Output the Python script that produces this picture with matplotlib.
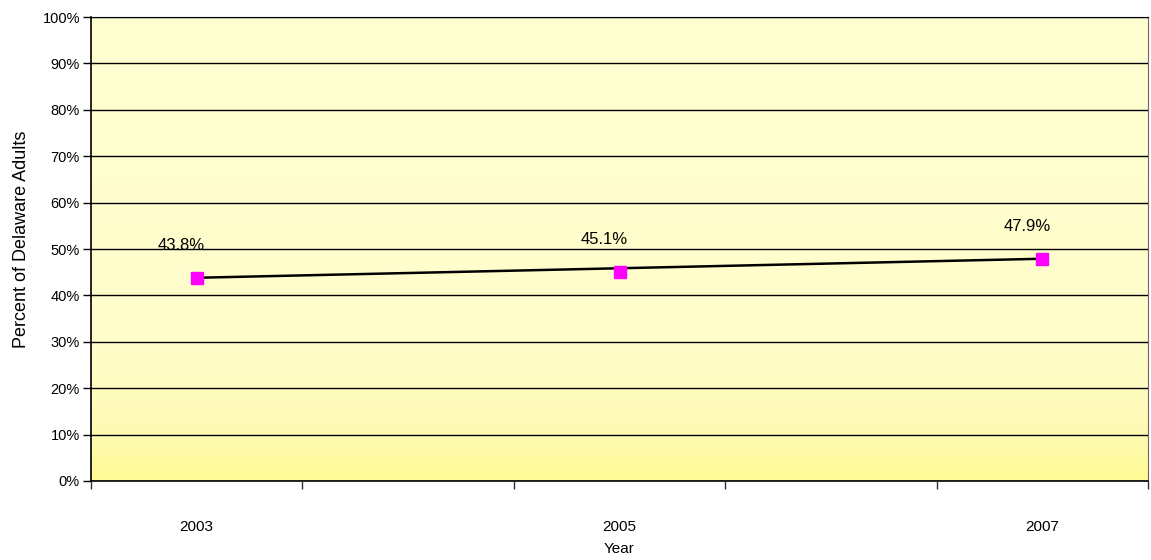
import numpy as np
import matplotlib
matplotlib.use("Agg")
import matplotlib.pyplot as plt
from matplotlib.colors import LinearSegmentedColormap

plt.rcParams['font.family'] = ['Liberation Sans', 'DejaVu Sans']

years = ['2003', '2004', '2005', '2006', '2007']
label_years = ['2003', '2005', '2007']
values = [43.8, 45.1, 47.9]          # percent of adults
value_labels = ['43.8%', '45.1%', '47.9%']

fig = plt.figure(figsize=(11.51, 5.6), dpi=100)
ax = fig.add_axes([0.0791, 0.1411, 0.9183, 0.8285])

# yellow gradient background, darker toward the bottom
cmap = LinearSegmentedColormap.from_list(
    'bg', [(0.0, '#FFFA94'), (0.12, '#FEFBB8'), (0.3, '#FFFDCA'), (1.0, '#FFFFD2')])
grad = np.linspace(0, 1, 256).reshape(-1, 1)
ax.imshow(grad, cmap=cmap, aspect='auto', origin='lower',
          extent=[-0.5, 4.5, 0, 100], zorder=0)

xpos = [years.index(y) for y in label_years]

# trend line between first and last year
ax.plot([xpos[0], xpos[-1]], [values[0], values[-1]], color='black', lw=1.8, zorder=3)
ax.plot(xpos, values, linestyle='none', marker='s', markersize=8.5,
        color='#FF00FF', markeredgecolor='#FF00FF', zorder=4)

for x, v, t in zip(xpos, values, value_labels):
    ax.annotate(t, (x, v), xytext=(-11, 23), textcoords='offset points',
                ha='center', va='center', fontsize=12)

ax.set_xlim(-0.5, 4.5)
ax.set_ylim(0, 100)
ax.set_yticks(np.arange(0, 101, 10))
ax.set_yticklabels([f'{v}%' for v in range(0, 101, 10)])
ax.yaxis.grid(True, color='black', lw=1)
ax.set_axisbelow(False)

ax.set_xticks(np.arange(-0.5, 4.6, 1))
ax.set_xticklabels([])
ax.set_xticks(xpos, minor=True)
ax.set_xticklabels(label_years, minor=True)
ax.tick_params(axis='x', which='minor', length=0, pad=28, labelsize=11)
ax.tick_params(axis='x', which='major', length=6, width=1, color='#333333')
ax.tick_params(axis='y', length=6, width=1, labelsize=10.5, pad=2)

for s in ['left', 'bottom']:
    ax.spines[s].set_color('black')
    ax.spines[s].set_linewidth(1.2)
ax.spines['top'].set_color('black')
ax.spines['right'].set_color('#666666')

ax.set_xlabel('Year', fontsize=11)
ax.xaxis.set_label_coords(0.5, -0.131)
ax.set_ylabel('Percent of Delaware Adults', fontsize=13)
ax.yaxis.set_label_coords(-0.058, 0.52)

fig.savefig('out.png', dpi=100)
